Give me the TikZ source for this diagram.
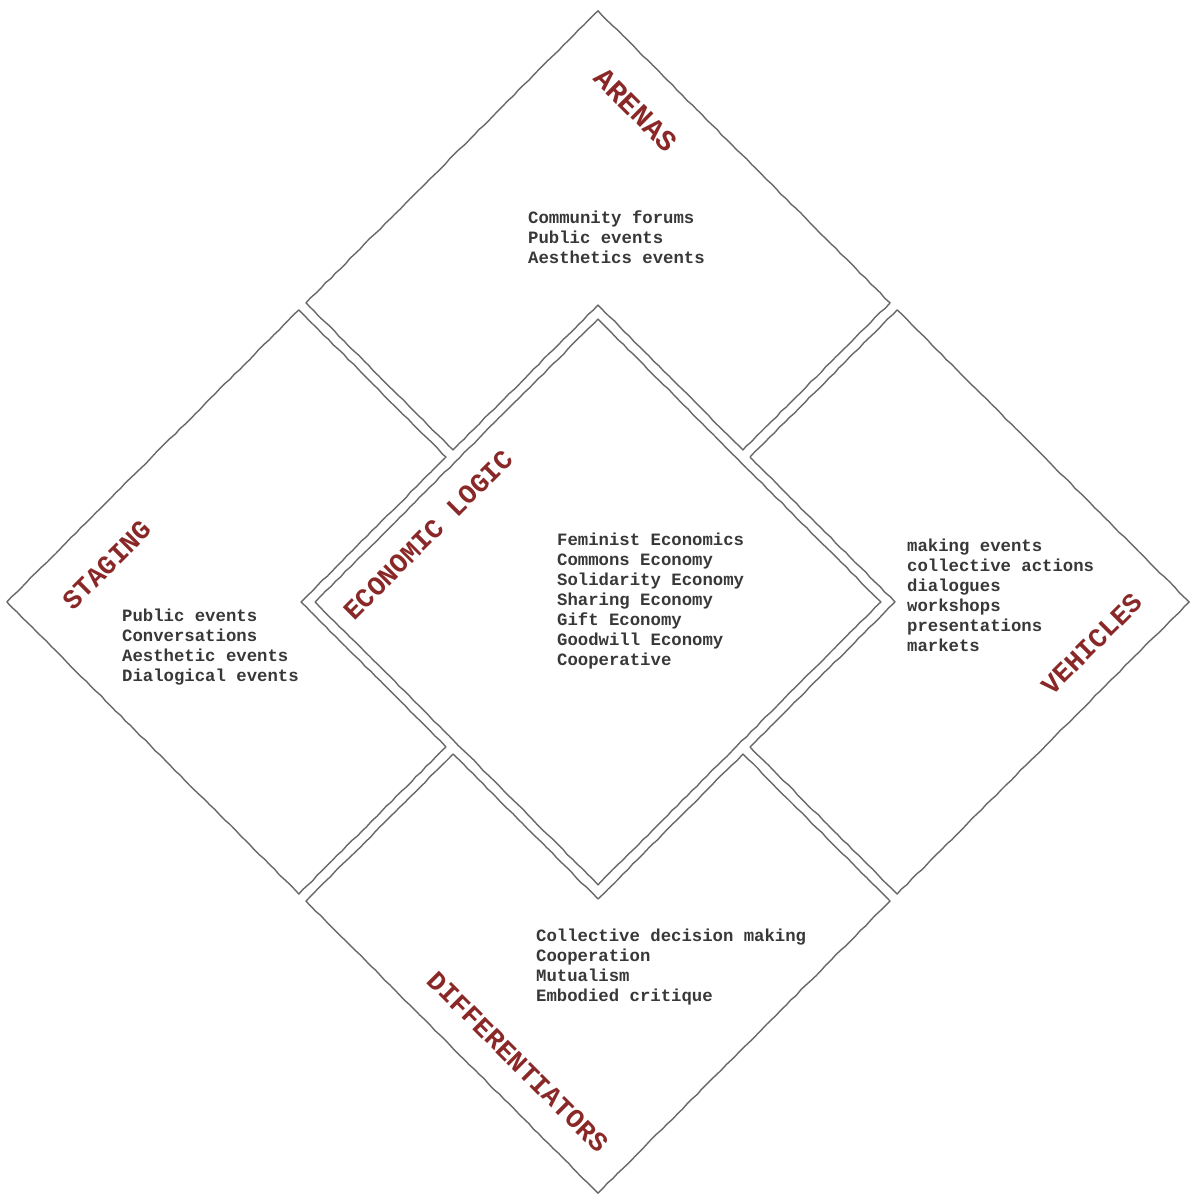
\documentclass[tikz,border=0pt]{standalone}
\usepackage{fontspec}
\setmonofont{Liberation Mono}
\usetikzlibrary{decorations.pathmorphing}
\definecolor{inkred}{HTML}{8A2828}
\definecolor{inkgray}{HTML}{383838}
\definecolor{pencil}{HTML}{686868}

\begin{document}
\begin{tikzpicture}[x=1pt,y=1pt,
  panel/.style={draw=pencil, line width=1.4pt, line join=round, decorate,
    decoration={random steps, segment length=7pt, amplitude=0.45pt}},
  entries/.style={font=\ttfamily\bfseries\fontsize{17.3}{20}\selectfont,
    text=inkgray, align=left, anchor=north west, inner sep=0pt},
  heading/.style={font=\ttfamily\bfseries\fontsize{27}{27}\selectfont,
    text=inkred, inner sep=0pt},
]
\fill[white] (0,0) rectangle (1192,1196);
\useasboundingbox (0,0) rectangle (1192,1196);
\pgfmathsetseed{7}

% four L-shaped panels around a central square, all turned by 45 degrees
\begin{scope}[shift={(598,594)}, rotate=45]
  % arenas (top)
  \draw[panel] (5,210) -- (5,418) -- (418,418) -- (418,5) -- (210,5) -- (210,210) -- cycle;
  % vehicles (right)
  \draw[panel] (418,-5) -- (418,-418) -- (5,-418) -- (5,-210) -- (210,-210) -- (210,-5) -- cycle;
  % differentiators (bottom)
  \draw[panel] (-5,-418) -- (-418,-418) -- (-418,-5) -- (-210,-5) -- (-210,-210) -- (-5,-210) -- cycle;
  % staging (left)
  \draw[panel] (-418,5) -- (-418,418) -- (-5,418) -- (-5,210) -- (-210,210) -- (-210,5) -- cycle;
  % economic logic (centre)
  \draw[panel] (-200,-200) -- (200,-200) -- (200,200) -- (-200,200) -- cycle;
\end{scope}

% headings
\node[heading, rotate=-45, font=\ttfamily\bfseries\fontsize{29}{29}\selectfont] (arenasH) at (636,1086) {ARENAS};
\node[heading, rotate=45] (stagingH) at (107,631) {STAGING};
\node[heading, rotate=45] (vehiclesH) at (1092,552) {VEHICLES};
\node[heading, rotate=-45] (diffH) at (518,134) {DIFFERENTIATORS};
\node[heading, rotate=45] (econH) at (428,661) {ECONOMIC LOGIC};

% entries
\node[entries] (arenasT) at (528,985) {Community forums\\Public events\\Aesthetics events};
\node[entries] (stagingT) at (122,587) {Public events\\Conversations\\Aesthetic events\\Dialogical events};
\node[entries] (econT) at (557,663) {Feminist Economics\\Commons Economy\\Solidarity Economy\\Sharing Economy\\Gift Economy\\Goodwill Economy\\Cooperative};
\node[entries] (vehiclesT) at (907,657) {making events\\collective actions\\dialogues\\workshops\\presentations\\markets};
\node[entries] (diffT) at (536,267) {Collective decision making\\Cooperation\\Mutualism\\Embodied critique};
\end{tikzpicture}
\end{document}
